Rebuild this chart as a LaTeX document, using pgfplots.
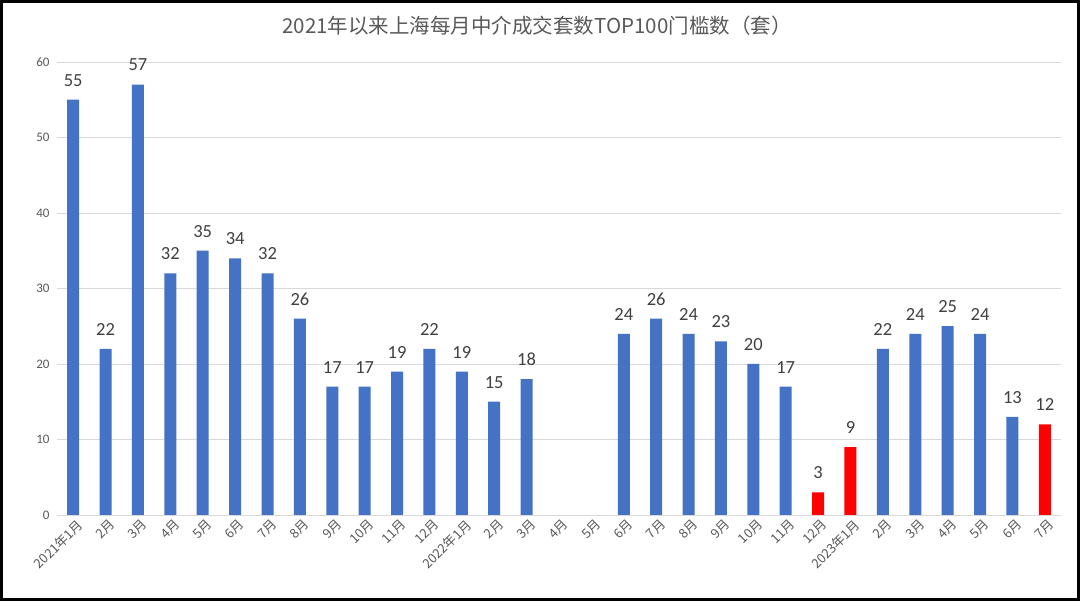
\documentclass[border=0pt]{standalone}
\usepackage{pgfplots}
\pgfplotsset{compat=1.18}
\usepackage{fontspec}
\setmainfont{Carlito}
\newfontfamily\cjk{Noto Sans CJK SC}
\definecolor{barblue}{HTML}{4472C4}
\definecolor{barred}{HTML}{FF0000}
\definecolor{txtgray}{HTML}{595959}
\definecolor{lblgray}{HTML}{404040}
\definecolor{gridgray}{HTML}{D9D9D9}
\begin{document}
\begin{tikzpicture}[x=1pt,y=1pt]
\useasboundingbox (0,0) rectangle (1080,601);
\fill[white] (0,0) rectangle (1080,601);
\begin{axis}[
  at={(57pt,86pt)}, anchor=south west,
  scale only axis, width=1004pt, height=453pt,
  xmin=-0.5, xmax=30.5, ymin=0, ymax=60,
  ytick={0,10,...,60},
  ymajorgrids, grid style={gridgray, line width=0.8pt},
  axis line style={draw=none},
  axis x line*=bottom,
  x axis line style={draw=gridgray, line width=0.8pt},
  major tick length=0pt,
  xtick={0,...,30},
  xticklabels={2021年1月,2月,3月,4月,5月,6月,7月,8月,9月,10月,11月,12月,2022年1月,2月,3月,4月,5月,6月,7月,8月,9月,10月,11月,12月,2023年1月,2月,3月,4月,5月,6月,7月},
  xticklabel style={font=\cjk\fontsize{13}{14}\selectfont, text=txtgray, rotate=45, anchor=north east, inner sep=1pt, xshift=1pt, yshift=-3pt},
  yticklabel style={font=\fontsize{13}{14}\selectfont, text=txtgray, xshift=-4pt},
  /pgf/number format/assume math mode=true,
  ybar, bar width=12pt, bar shift=0pt,
  nodes near coords,
  every node near coord/.append style={font=\fontsize{18.5}{19}\selectfont, text=lblgray, yshift=10pt},
  clip=false,
]
\addplot[fill=barblue, draw=none] coordinates {
(0,55) (1,22) (2,57) (3,32) (4,35) (5,34) (6,32) (7,26) (8,17) (9,17) (10,19) (11,22)
(12,19) (13,15) (14,18) (17,24) (18,26) (19,24) (20,23) (21,20) (22,17)
(25,22) (26,24) (27,25) (28,24) (29,13)};
\addplot[fill=barred, draw=none] coordinates {(23,3) (24,9) (30,12)};
\end{axis}
\node[font=\cjk\fontsize{20.5}{22}\selectfont, text=txtgray] at (537,575) {2021年以来上海每月中介成交套数TOP100门槛数（套）};
\draw[black, line width=3pt] (1.5,1.5) rectangle (1078.5,599.5);
\end{tikzpicture}
\end{document}
